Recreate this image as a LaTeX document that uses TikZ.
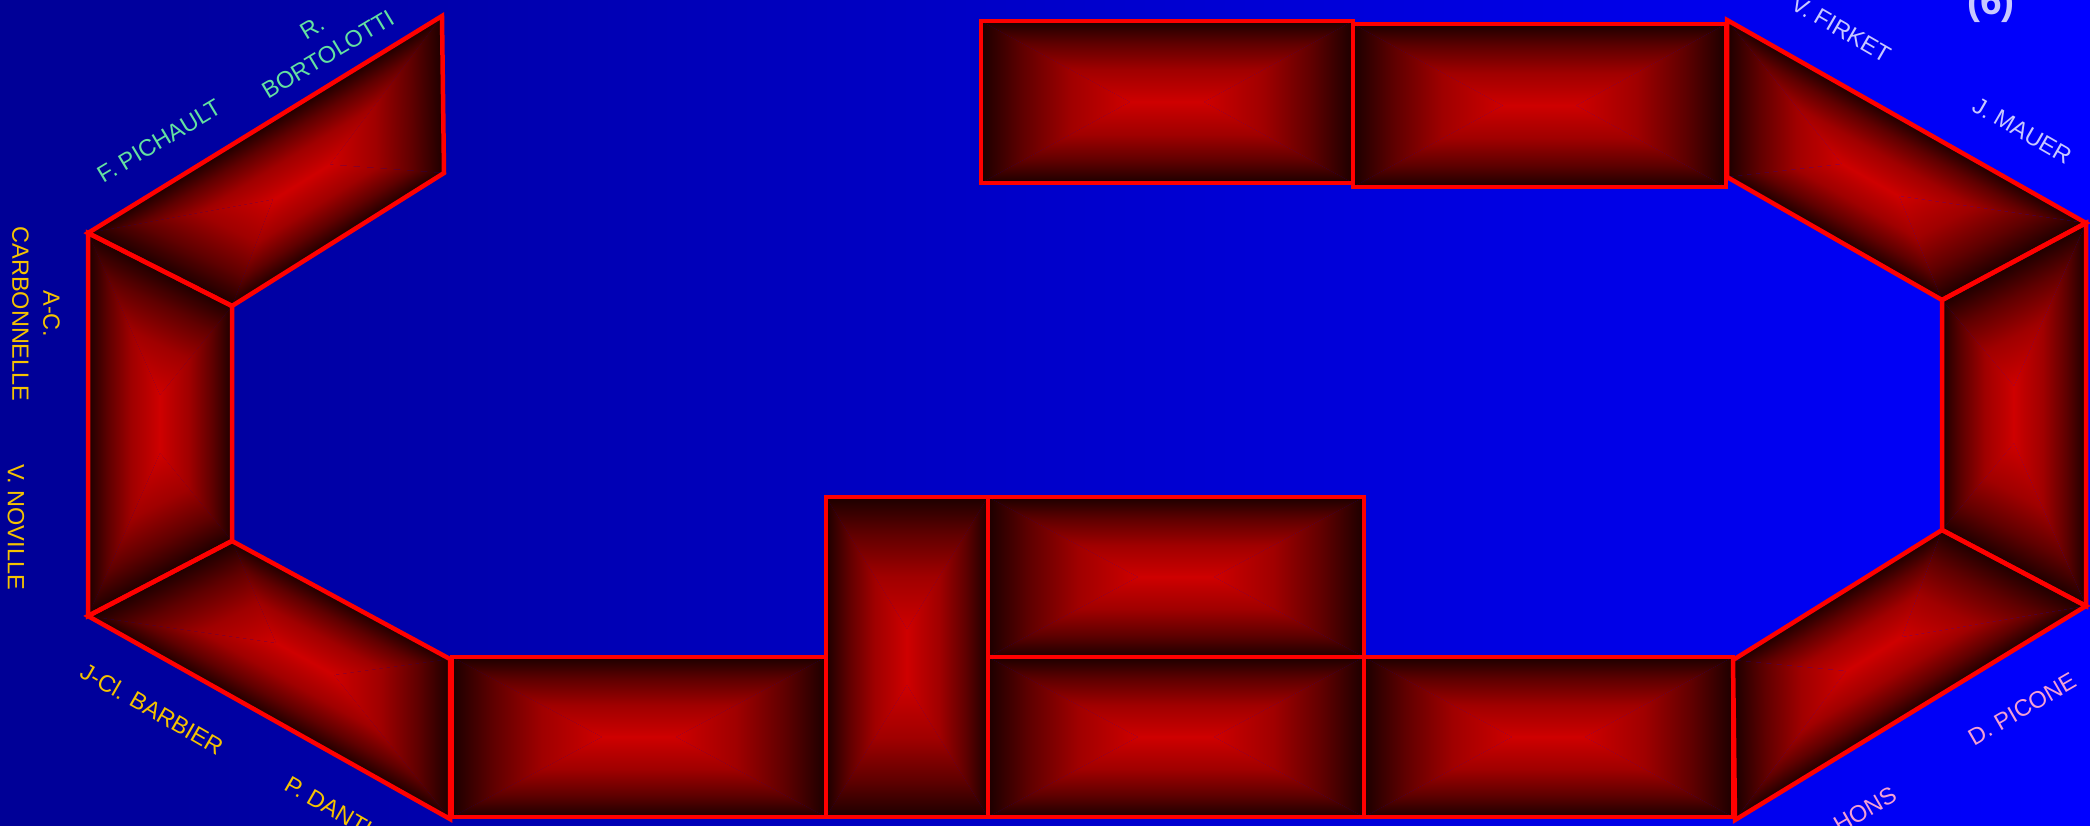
\documentclass[tikz,border=0pt]{standalone}
\usepackage{fontspec}
\setmainfont{Liberation Sans}
\definecolor{bgl}{RGB}{0,0,150}
\definecolor{bgr}{RGB}{0,0,255}
\definecolor{edgecol}{RGB}{28,0,0}
\definecolor{fca}{RGB}{96,0,0}
\definecolor{fcb}{RGB}{160,0,0}
\definecolor{fcc}{RGB}{188,0,0}
\definecolor{midcol}{RGB}{206,0,0}
\definecolor{lgreen}{RGB}{100,225,160}
\definecolor{lgold}{RGB}{245,195,0}
\definecolor{llav}{RGB}{200,200,255}
\definecolor{lpink}{RGB}{245,160,210}
% the path box maps to 25bp..75bp; the ramp covers 25bp..50bp
\pgfdeclareverticalshading{facesh}{100bp}{color(0bp)=(edgecol); color(25bp)=(edgecol); color(32bp)=(fca); color(40bp)=(fcb); color(46.25bp)=(fcc); color(50bp)=(midcol); color(100bp)=(midcol)}
\newdimen\fxa \newdimen\fya \newdimen\fxb \newdimen\fyb \newdimen\fxc \newdimen\fyc
\makeatletter
% #1 base start, #2 base end, #3 apex (full colour), #4 clip polygon
\newcommand\facereg[4]{%
  \pgfpointanchor{#1}{center}\global\fxa=\pgf@x\global\fya=\pgf@y
  \pgfpointanchor{#2}{center}\global\fxb=\pgf@x\global\fyb=\pgf@y
  \pgfpointanchor{#3}{center}\global\fxc=\pgf@x\global\fyc=\pgf@y
  \pgfmathsetmacro\tmA{((\the\fxb)-(\the\fxa))/10}%
  \pgfmathsetmacro\tmB{((\the\fyb)-(\the\fya))/10}%
  \pgfmathsetmacro\tmC{((\the\fxc)-(\the\fxa))/10}%
  \pgfmathsetmacro\tmD{((\the\fyc)-(\the\fya))/10}%
  \begin{scope}
    \clip #4;
    \begin{scope}[transform canvas={cm={\tmA,\tmB,\tmC,\tmD,(#1)}}]
      \shade[shading=facesh] (-10pt,0pt) rectangle (20pt,20pt);
    \end{scope}
  \end{scope}}
\makeatother
% corners #1..#4, inner points #5..#8 belonging to corners #1..#4
\newcommand\facefull[8]{%
  \fill[midcol] (#5)--(#6)--(#7)--(#8)--cycle;
  \facereg{#1}{#2}{#5}{(#1)--(#2)--(#6)--(#5)--cycle}%
  \facereg{#2}{#3}{#6}{(#2)--(#3)--(#7)--(#6)--cycle}%
  \facereg{#3}{#4}{#7}{(#3)--(#4)--(#8)--(#7)--cycle}%
  \facereg{#4}{#1}{#8}{(#4)--(#1)--(#5)--(#8)--cycle}%
  \draw[midcol, line width=1.5pt] (#5)--(#6)--(#7)--(#8)--cycle;}
\tikzset{
  face/.style={draw=red, line width=4.5pt, line join=miter},
  lbl/.style={font=\fontsize{23.5}{31}\selectfont, align=center, inner sep=0pt},
}
\begin{document}
\begin{tikzpicture}[x=1pt,y=-1pt]
\useasboundingbox (0,0) rectangle (2090,826);
\clip (0,0) rectangle (2090,826);
\shade[left color=bgl, right color=bgr] (0,0) rectangle (2090,826);
% ---- vertices of the skewed faces
\coordinate (A) at (88,233);
\coordinate (B) at (442,16);
\coordinate (C) at (444,173);
\coordinate (D) at (232,306);
\coordinate (E) at (232,541);
\coordinate (F) at (88,616);
\coordinate (G) at (450,659);
\coordinate (H) at (450,819);
\coordinate (V) at (1727,20);
\coordinate (U) at (2086,223);
\coordinate (T) at (1942,300);
\coordinate (W) at (1727,177);
\coordinate (Q) at (1942,530);
\coordinate (R) at (2086,606);
\coordinate (P) at (1733,660);
\coordinate (S) at (1735,820);
% inner points
\coordinate (tl1) at (273,199.5); \coordinate (tl2) at (330,164.5);
\coordinate (ll1) at (160,395); \coordinate (ll2) at (160,453);
\coordinate (bl1) at (276,643); \coordinate (bl2) at (334,675);
\coordinate (tr1) at (1842,164); \coordinate (tr2) at (1899,196);
\coordinate (rr1) at (2014,386); \coordinate (rr2) at (2014,443);
\coordinate (br1) at (1846,671); \coordinate (br2) at (1902,637);
% ---- rectangles
\coordinate (r1a) at (452,657); \coordinate (r1b) at (826,657);
\coordinate (r1c) at (826,817); \coordinate (r1d) at (452,817);
\coordinate (r1m) at (602,737); \coordinate (r1n) at (676,737);
\coordinate (ta) at (826,497); \coordinate (tb) at (988,497);
\coordinate (tc) at (988,817); \coordinate (td) at (826,817);
\coordinate (tm) at (907,629); \coordinate (tn) at (907,685);
\coordinate (r2a) at (988,497); \coordinate (r2b) at (1364,497);
\coordinate (r2c) at (1364,657); \coordinate (r2d) at (988,657);
\coordinate (r2m) at (1138,577); \coordinate (r2n) at (1214,577);
\coordinate (r3a) at (988,657); \coordinate (r3b) at (1364,657);
\coordinate (r3c) at (1364,817); \coordinate (r3d) at (988,817);
\coordinate (r3m) at (1138,737); \coordinate (r3n) at (1214,737);
\coordinate (r4a) at (1364,657); \coordinate (r4b) at (1733,657);
\coordinate (r4c) at (1733,817); \coordinate (r4d) at (1364,817);
\coordinate (r4m) at (1512,737); \coordinate (r4n) at (1585,737);
\coordinate (t1a) at (981,21); \coordinate (t1b) at (1353,21);
\coordinate (t1c) at (1353,183); \coordinate (t1d) at (981,183);
\coordinate (t1m) at (1130,102); \coordinate (t1n) at (1204,102);
\coordinate (t2a) at (1353,24); \coordinate (t2b) at (1726,24);
\coordinate (t2c) at (1726,187); \coordinate (t2d) at (1353,187);
\coordinate (t2m) at (1502.7,105.5); \coordinate (t2n) at (1576.3,105.5);
% ---- fills
\facefull{A}{B}{C}{D}{tl1}{tl2}{tl2}{tl1}
\facefull{A}{D}{E}{F}{ll1}{ll1}{ll2}{ll2}
\facefull{F}{E}{G}{H}{bl1}{bl1}{bl2}{bl2}
\facefull{V}{U}{T}{W}{tr1}{tr2}{tr2}{tr1}
\facefull{T}{U}{R}{Q}{rr1}{rr1}{rr2}{rr2}
\facefull{P}{Q}{R}{S}{br1}{br2}{br2}{br1}
\facefull{r1a}{r1b}{r1c}{r1d}{r1m}{r1n}{r1n}{r1m}
\facefull{ta}{tb}{tc}{td}{tm}{tm}{tn}{tn}
\facefull{r2a}{r2b}{r2c}{r2d}{r2m}{r2n}{r2n}{r2m}
\facefull{r3a}{r3b}{r3c}{r3d}{r3m}{r3n}{r3n}{r3m}
\facefull{r4a}{r4b}{r4c}{r4d}{r4m}{r4n}{r4n}{r4m}
\facefull{t1a}{t1b}{t1c}{t1d}{t1m}{t1n}{t1n}{t1m}
\facefull{t2a}{t2b}{t2c}{t2d}{t2m}{t2n}{t2n}{t2m}
% ---- outlines
\draw[face] (A)--(B)--(C)--(D)--cycle;
\draw[face] (A)--(D)--(E)--(F)--cycle;
\draw[face] (F)--(E)--(G)--(H)--cycle;
\draw[face] (r1a) rectangle (r1c);
\draw[face] (r2a) rectangle (r2c);
\draw[face] (r3a) rectangle (r3c);
\draw[face] (r4a) rectangle (r4c);
\draw[face] (ta) rectangle (tc);
\draw[face] (t1a) rectangle (t1c);
\draw[face] (t2a) rectangle (t2c);
\draw[face] (V)--(U)--(T)--(W)--cycle;
\draw[face] (T)--(U)--(R)--(Q)--cycle;
\draw[face] (P)--(Q)--(R)--(S)--cycle;
% ---- labels
\node[lbl, text=lgreen, rotate=31] (pichault) at (159,141) {F. PICHAULT};
\node[lbl, text=lgreen, rotate=31] (bortolotti) at (320,41) {R.\\BORTOLOTTI};
\node[lbl, text=lgold, rotate=-90] (carbonnelle) at (36,314) {A-C.\\CARBONNELLE};
\node[lbl, text=lgold, rotate=-90] (noville) at (16,527) {V. NOVILLE};
\node[lbl, text=lgold, rotate=-30] (barbier) at (152,709) {J-Cl. BARBIER};
\node[lbl, text=lgold, rotate=-30] (danthine) at (350,819) {P. DANTHINE};
\node[lbl, text=llav, rotate=-30] (firket) at (1841,29) {V. FIRKET};
\node[lbl, text=llav, rotate=-30] (mauer) at (2022,131) {J. MAUER};
\node[lbl, text=lpink, rotate=30] (picone) at (2022,709) {D. PICONE};
\node[lbl, text=lpink, rotate=30] (hons) at (1865,810) {HONS};
\node[font=\fontsize{39}{39}\selectfont\bfseries, text=llav, anchor=base, inner sep=0pt] (six) at (1991,15) {(6)};
\end{tikzpicture}
\end{document}
